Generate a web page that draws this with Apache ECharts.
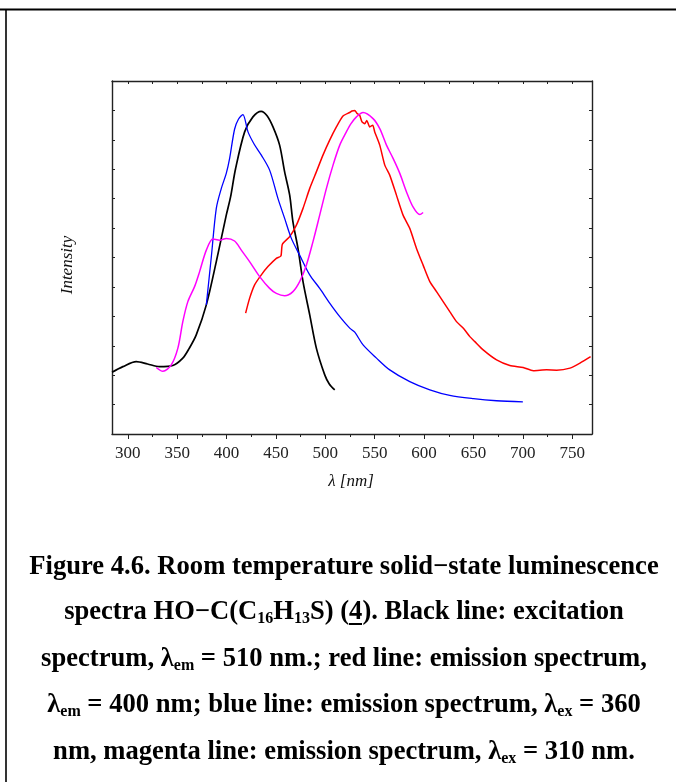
<!DOCTYPE html>
<html>
<head>
<meta charset="utf-8">
<script src="https://cdn.jsdelivr.net/npm/echarts@6/dist/echarts.min.js"></script>
<style>
  html, body { margin: 0; padding: 0; background: #fff; }
  #chart { width: 676px; height: 782px; }
</style>
</head>
<body>
<div id="chart"></div>
<script>
// Wavelength ticks (nm)
const majorTicks = [300, 350, 400, 450, 500, 550, 600, 650, 700, 750];
const minorTicks = [325, 375, 425, 475, 525, 575, 625, 675, 725];

// Spectra: [wavelength nm, intensity a.u.]
const excitationBlack = [
  [284, 2.10], [295, 2.29], [308.5, 2.46], [320, 2.38], [332, 2.29], [345.6, 2.33],
  [355.7, 2.58], [362, 2.90], [369.3, 3.37], [379.5, 4.39], [389.6, 5.86], [399.7, 7.44],
  [404, 8.05], [409, 9.0], [418.3, 10.27], [426.7, 10.78], [435, 10.97], [441, 10.82],
  [447, 10.44], [453.7, 9.82], [458.8, 8.91], [463.9, 8.12], [467.2, 7.21], [472.3, 6.31],
  [477.4, 5.18], [484.2, 4.05], [490.9, 2.92], [499.4, 2.01], [504, 1.70], [509.5, 1.50]
];

const emissionRed = [
  [419.3, 4.11], [423.3, 4.61], [428.4, 5.07], [435.2, 5.41], [441.9, 5.69], [450.4, 5.97],
  [455, 6.05], [456.5, 6.45], [463.9, 6.71], [470.7, 7.10], [477.4, 7.67], [484.2, 8.35],
  [490.9, 8.91], [497.6, 9.48], [504.4, 9.99], [511.2, 10.44], [517.9, 10.81], [524.7, 10.93],
  [527, 10.98], [529.8, 11.0], [532, 10.9], [534.8, 10.83], [537, 10.62], [539.9, 10.55],
  [542, 10.66], [545, 10.44], [548, 10.5], [550, 10.27], [555.1, 9.82], [560.2, 9.14],
  [565.2, 8.80], [572, 8.12], [578.7, 7.44], [585.5, 6.99], [592.3, 6.31], [599, 5.74],
  [605.8, 5.18], [612.6, 4.84], [619.3, 4.50], [626, 4.16], [632.8, 3.82], [639.5, 3.60],
  [646.3, 3.31], [651.4, 3.14], [659.8, 2.86], [673.4, 2.52], [686.8, 2.33], [700.3, 2.26],
  [710.5, 2.15], [724, 2.18], [734.2, 2.17], [747.7, 2.24], [757.8, 2.41], [768.6, 2.63]
];

const emissionBlue = [
  [379.5, 4.39], [384.5, 6.0], [389.6, 7.67], [394.7, 8.35], [399.7, 8.86], [403.1, 9.37],
  [408.1, 10.36], [412, 10.7], [416.5, 10.86], [421.7, 10.27], [428, 9.85], [435.2, 9.48],
  [443.6, 8.97], [452, 8.01], [458.8, 7.33], [465.6, 6.65], [474, 6.08], [484.2, 5.41],
  [494.3, 4.95], [504.4, 4.45], [514.6, 3.99], [524.7, 3.60], [529.8, 3.46], [538.2, 3.03],
  [551.8, 2.58], [565.2, 2.18], [585.5, 1.78], [605.8, 1.50], [626, 1.31], [650, 1.20],
  [673.4, 1.13], [700, 1.09]
];

const emissionMagenta = [
  [328.8, 2.26], [335.5, 2.13], [344, 2.35], [350.7, 2.92], [355.7, 3.82], [360.8, 4.50],
  [367.6, 5.01], [372.7, 5.52], [379.5, 6.25], [386.2, 6.63], [393, 6.59], [399.7, 6.65],
  [408.1, 6.56], [414.9, 6.25], [423.3, 5.86], [433.5, 5.35], [443.6, 4.95], [450.4, 4.78],
  [458.8, 4.70], [467.2, 4.84], [474, 5.18], [480.8, 5.74], [487.5, 6.54], [494.3, 7.44],
  [501.1, 8.35], [507.8, 9.14], [514.6, 9.82], [521.3, 10.27], [526, 10.55], [531.5, 10.78],
  [538.2, 10.93], [548.3, 10.72], [555.1, 10.38], [561.9, 9.82], [568.6, 9.37], [575.4, 8.86],
  [582.2, 8.23], [588.8, 7.72], [595.6, 7.46], [599, 7.53]
];

// Caption, split into runs: n = normal, s = subscript, u = underlined
const captionLines = [
  [['n', 'Figure 4.6. Room temperature solid\u2212state luminescence']],
  [['n', 'spectra HO\u2212C(C'], ['s', '16'], ['n', 'H'], ['s', '13'], ['n', 'S) ('], ['u', '4'], ['n', '). Black line: excitation']],
  [['n', 'spectrum, \u03bb'], ['s', 'em'], ['n', ' = 510 nm.; red line: emission spectrum,']],
  [['n', '\u03bb'], ['s', 'em'], ['n', ' = 400 nm; blue line: emission spectrum, \u03bb'], ['s', 'ex'], ['n', ' = 360']],
  [['n', 'nm, magenta line: emission spectrum, \u03bb'], ['s', 'ex'], ['n', ' = 310 nm.']]
];

const SERIF = '"Liberation Serif", "Times New Roman", serif';
const capSize = 26.6;
const subSize = 16;
const capCenterX = 344;
const capLineY = [567, 612.5, 659, 705.5, 752];

// Underline drawn as the token's background: a strip at the bottom of the token box
const underlineImg = document.createElement('canvas');
underlineImg.width = 4;
underlineImg.height = 54;
(function () {
  const c = underlineImg.getContext('2d');
  c.fillStyle = '#000';
  c.fillRect(0, 48, 4, 4);
})();

const graphics = [];
// page frame
graphics.push({ type: 'line', shape: { x1: 0, y1: 9.5, x2: 676, y2: 9.5 }, style: { stroke: '#000', lineWidth: 2 } });
graphics.push({ type: 'line', shape: { x1: 6, y1: 9.5, x2: 6, y2: 782 }, style: { stroke: '#000', lineWidth: 1.6 } });

// axis titles
graphics.push({
  type: 'text', x: 68, y: 265, rotation: Math.PI / 2,
  style: { text: 'Intensity', font: 'italic 17px ' + SERIF, fill: '#111', textAlign: 'center', textVerticalAlign: 'middle' }
});
graphics.push({
  type: 'text', x: 351, y: 482,
  style: { text: '\u03bb [nm]', font: 'italic 17px ' + SERIF, fill: '#111', textAlign: 'center', textVerticalAlign: 'middle' }
});

captionLines.forEach(function (runs, i) {
  const rich = runs.map(function (r) { return '{' + r[0] + '|' + r[1] + '}'; }).join('');
  graphics.push({
    type: 'text', x: capCenterX, y: capLineY[i],
    style: {
      text: rich, textAlign: 'center', textVerticalAlign: 'middle', fill: '#000',
      rich: {
        n: { fontFamily: SERIF, fontWeight: 'bold', fontSize: capSize, fill: '#000', lineHeight: 34 },
        u: { fontFamily: SERIF, fontWeight: 'bold', fontSize: capSize, fill: '#000', lineHeight: 34,
             backgroundColor: { image: underlineImg } },
        s: { fontFamily: SERIF, fontWeight: 'bold', fontSize: subSize, fill: '#000', lineHeight: 34, padding: [13, 0, 0, 0] }
      }
    }
  });
});

const axisLineStyle = { color: '#222', width: 1.4 };
const tickLabelStyle = { fontFamily: SERIF, fontSize: 17, color: '#222' };

const option = {
  animation: false,
  backgroundColor: '#fff',
  grid: { left: 112, right: 84, top: 81, bottom: 348, containLabel: false },
  xAxis: [
    {
      type: 'value', position: 'bottom', min: 284, max: 770,
      axisLine: { show: true, lineStyle: axisLineStyle },
      axisTick: { show: true, inside: false, length: 5, customValues: majorTicks, lineStyle: { color: '#222', width: 1 } },
      axisLabel: { show: true, customValues: majorTicks, margin: 11, ...tickLabelStyle },
      splitLine: { show: false }
    },
    {
      type: 'value', position: 'bottom', min: 284, max: 770,
      axisLine: { show: false },
      axisTick: { show: true, inside: false, length: 3, customValues: minorTicks, lineStyle: { color: '#222', width: 1 } },
      axisLabel: { show: false },
      splitLine: { show: false }
    },
    {
      type: 'value', position: 'top', min: 284, max: 770,
      axisLine: { show: true, lineStyle: axisLineStyle },
      axisTick: { show: true, inside: true, length: 3, customValues: majorTicks.concat(minorTicks), lineStyle: { color: '#222', width: 1 } },
      axisLabel: { show: false },
      splitLine: { show: false }
    }
  ],
  yAxis: [
    {
      type: 'value', position: 'left', min: 0, max: 12, interval: 1,
      axisLine: { show: true, lineStyle: axisLineStyle },
      axisTick: { show: true, inside: true, length: 3, lineStyle: { color: '#222', width: 1 } },
      axisLabel: { show: false },
      splitLine: { show: false }
    },
    {
      type: 'value', position: 'right', min: 0, max: 12, interval: 1,
      axisLine: { show: true, lineStyle: axisLineStyle },
      axisTick: { show: true, inside: true, length: 3, lineStyle: { color: '#222', width: 1 } },
      axisLabel: { show: false },
      splitLine: { show: false }
    }
  ],
  series: [
    { name: 'excitation', type: 'line', data: excitationBlack, showSymbol: false, smooth: 0.3, lineStyle: { color: '#000000', width: 1.7 }, z: 3 },
    { name: 'emission 400', type: 'line', data: emissionRed, showSymbol: false, smooth: 0.2, lineStyle: { color: '#ff0000', width: 1.5 }, z: 3 },
    { name: 'emission 360', type: 'line', data: emissionBlue, showSymbol: false, smooth: 0.3, lineStyle: { color: '#0000ff', width: 1.3 }, z: 3 },
    { name: 'emission 310', type: 'line', data: emissionMagenta, showSymbol: false, smooth: 0.3, lineStyle: { color: '#ff00ff', width: 1.5 }, z: 3 }
  ],
  graphic: graphics
};

const chart = echarts.init(document.getElementById('chart'), null, { renderer: 'canvas' });
chart.setOption(option);
</script>
</body>
</html>
